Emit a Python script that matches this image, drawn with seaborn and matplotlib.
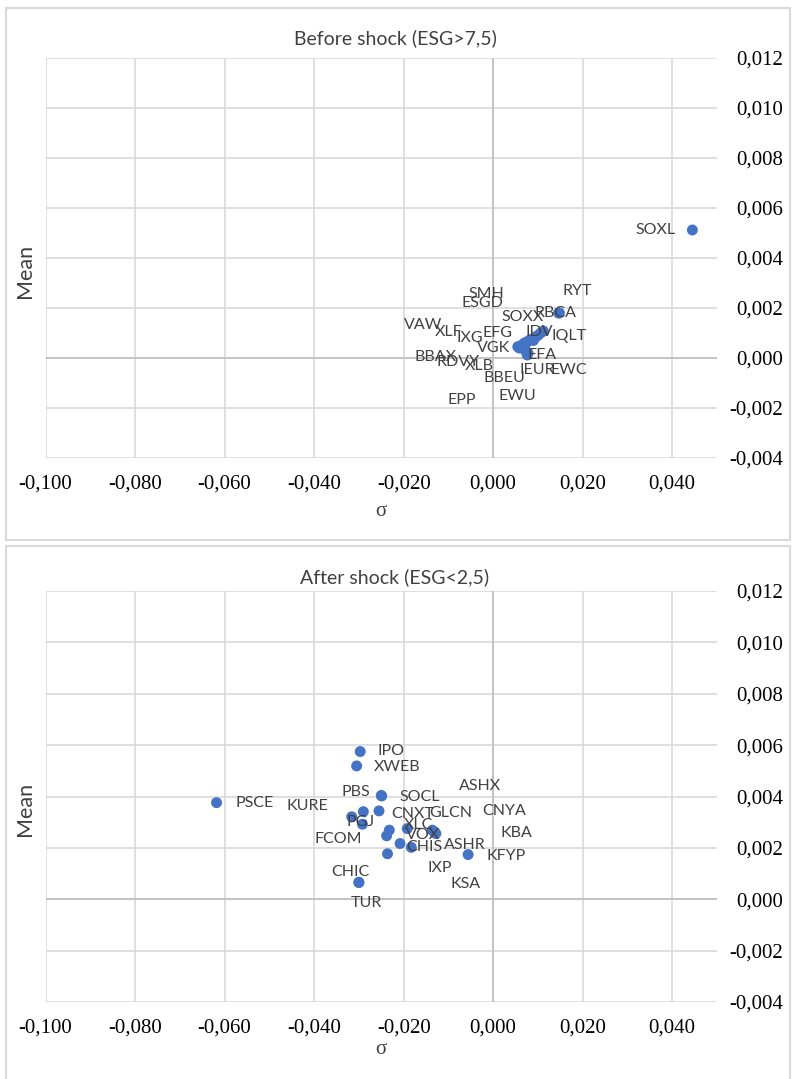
import matplotlib
matplotlib.use("Agg")
import matplotlib.pyplot as plt
import seaborn as sns
import pandas as pd
from matplotlib.ticker import FuncFormatter, MultipleLocator
from matplotlib.patches import Rectangle

# ----------------------------
# Data
# ----------------------------

before_names = ["SOXL", "RYT", "RBCA", "SOXX", "IDV", "SMH", "IQLT", "EWC", "EFG",
                "ESGD", "IEUR", "EFA", "EWU", "IXG", "XLF", "VGK", "XLB", "BBEU",
                "RDVY", "EPP", "VAW", "BBAX"]
before_sigma = [0.0445, 0.0148, 0.0146, 0.0112, 0.0106, 0.0100, 0.0095, 0.0090, 0.0086,
                0.0082, 0.0078, 0.0076, 0.0072, 0.0076, 0.0073, 0.0070, 0.0068, 0.0066,
                0.0063, 0.0060, 0.0058, 0.0055]
before_mean = [0.00512, 0.00180, 0.00180, 0.00108, 0.00100, 0.00090, 0.00085, 0.00070, 0.00075,
               0.00072, 0.00020, 0.00012, 0.00030, 0.00065, 0.00058, 0.00060, 0.00055, 0.00042,
               0.00050, 0.00048, 0.00040, 0.00045]

after_names = ["PSCE", "IPO", "XWEB", "PBS", "SOCL", "KURE", "CNXT", "GLCN", "CNYA",
               "ASHX", "PGJ", "XLC", "KBA", "FCOM", "VOX", "CHIS", "ASHR", "KFYP",
               "IXP", "KSA", "CHIC", "TUR"]
after_sigma = [-0.0618, -0.0297, -0.0305, -0.0250, -0.0249, -0.0316, -0.0255, -0.0136, -0.0128,
               -0.0131, -0.0290, -0.0192, -0.0130, -0.0292, -0.0232, -0.0183, -0.0208, -0.0056,
               -0.0236, -0.0238, -0.0300, -0.0300]
after_mean = [0.00376, 0.00575, 0.00519, 0.00404, 0.00402, 0.00321, 0.00344, 0.00269, 0.00256,
              0.00262, 0.00341, 0.00275, 0.00258, 0.00292, 0.00269, 0.00202, 0.00217, 0.00174,
              0.00177, 0.00247, 0.00065, 0.00066]

x_ticks = [-0.100, -0.080, -0.060, -0.040, -0.020, 0.000, 0.020, 0.040]

# label placement (pixel offsets from each point, like Excel's moved data labels)
before_offsets = {
    "SOXL": (-57, 0), "RYT": (3, 22), "RBCA": (-24, 0), "SOXX": (-42, 14),
    "IDV": (-15, 1), "SMH": (-69, 42), "IQLT": (16, 1), "EWC": (17, -30),
    "EFG": (-49, 6), "ESGD": (-68, 37), "IEUR": (-9, -17), "EFA": (0, 0),
    "EWU": (-27, -45), "IXG": (-71, 4), "XLF": (-91, 11), "VGK": (-48, -5),
    "XLB": (-59, -22), "BBEU": (-39, -30), "RDVY": (-85, -16), "EPP": (-73, -54),
    "VAW": (-115, 23), "BBAX": (-103, -10),
}
after_offsets = {
    "PSCE": (19, 0), "IPO": (17, 1), "XWEB": (17, -1), "PBS": (-40, 3),
    "SOCL": (18, -1), "KURE": (-65, 11), "CNXT": (12, -3), "GLCN": (-3, 17),
    "CNYA": (46, 22), "ASHX": (24, 46), "PGJ": (-17, -10), "XLC": (-3, 4),
    "KBA": (66, 0), "FCOM": (-48, -15), "VOX": (17, -5), "CHIS": (-5, 0),
    "ASHR": (44, -1), "KFYP": (18, -1), "IXP": (40, -14), "KSA": (64, -48),
    "CHIC": (-28, 11), "TUR": (-8, -21),
}

df_before = pd.DataFrame({"name": before_names, "sigma": before_sigma, "mean": before_mean})
df_after = pd.DataFrame({"name": after_names, "sigma": after_sigma, "mean": after_mean})

# ----------------------------
# Plot
# ----------------------------

sns.set_style("white")
plt.rcParams["font.family"] = ["Lato", "DejaVu Sans"]

W, H = 794, 1079
fig = plt.figure(figsize=(W / 100, H / 100), dpi=100)

blue = "#4472C4"
grid_col = "#d9d9d9"
axis_col = "#bfbfbf"
label_col = "#404040"


def comma_fmt(v, pos):
    return f"{v:.3f}".replace(".", ",").replace("-0,000", "0,000")


def draw_panel(ax, df, offsets, title, frame_top, frame_bot):
    sns.scatterplot(data=df, x="sigma", y="mean", ax=ax, color=blue,
                    s=62, edgecolor="none", legend=False, zorder=3)
    for _, r in df.iterrows():
        ax.annotate(r["name"], (r["sigma"], r["mean"]),
                    xytext=offsets[r["name"]], textcoords="offset pixels",
                    ha="left", va="center", fontsize=11.5, color=label_col, zorder=4)

    ax.set_xlim(-0.100, 0.050)
    ax.set_ylim(-0.004, 0.012)
    ax.set_xticks(x_ticks)
    ax.yaxis.set_major_locator(MultipleLocator(0.002))
    ax.xaxis.set_major_formatter(FuncFormatter(comma_fmt))
    ax.yaxis.set_major_formatter(FuncFormatter(comma_fmt))
    ax.grid(True, color=grid_col, linewidth=1.2, zorder=0)
    ax.axvline(0, color=axis_col, linewidth=1.2, zorder=1)
    ax.axhline(0, color=axis_col, linewidth=1.2, zorder=1)
    for sp in ax.spines.values():
        sp.set_visible(False)

    ax.yaxis.tick_right()
    ax.tick_params(axis="y", length=0, pad=47.5, labelsize=15)
    ax.tick_params(axis="x", length=0, pad=12, labelsize=15)
    for t in ax.get_yticklabels() + ax.get_xticklabels():
        t.set_fontfamily("Liberation Serif")
        t.set_color("black")
    for t in ax.get_yticklabels():
        t.set_horizontalalignment("right")
    ax.set_xlabel("")
    ax.set_ylabel("")

    # chart titles and axis titles
    fig.text(395 / W, 1 - (frame_top + 31) / H, title, ha="center", va="center",
             fontsize=14, color="#404040")
    fig.text(25 / W, 1 - (frame_top + 263) / H, "Mean", ha="center", va="center",
             rotation=90, fontsize=15.5, color="#404040")
    fig.text(381 / W, 1 - (frame_top + 504) / H, "σ", ha="center", va="center",
             fontsize=15, color="#404040", family=["Liberation Serif", "DejaVu Sans"])
    # chart area border
    fig.add_artist(Rectangle((5.5 / W, 1 - frame_bot / H), (790 - 5.5) / W,
                             (frame_bot - frame_top) / H, transform=fig.transFigure,
                             fill=False, edgecolor=grid_col, linewidth=1.5))


ax1 = fig.add_axes([45.5 / W, 1 - 458 / H, (717 - 45.5) / W, 400 / H])
draw_panel(ax1, df_before, before_offsets, "Before shock (ESG>7,5)", 7.5, 540)

ax2 = fig.add_axes([45.5 / W, 1 - 1002 / H, (717 - 45.5) / W, 411 / H])
draw_panel(ax2, df_after, after_offsets, "After shock (ESG<2,5)", 546, 1090)

fig.savefig("out.png", dpi=100)
